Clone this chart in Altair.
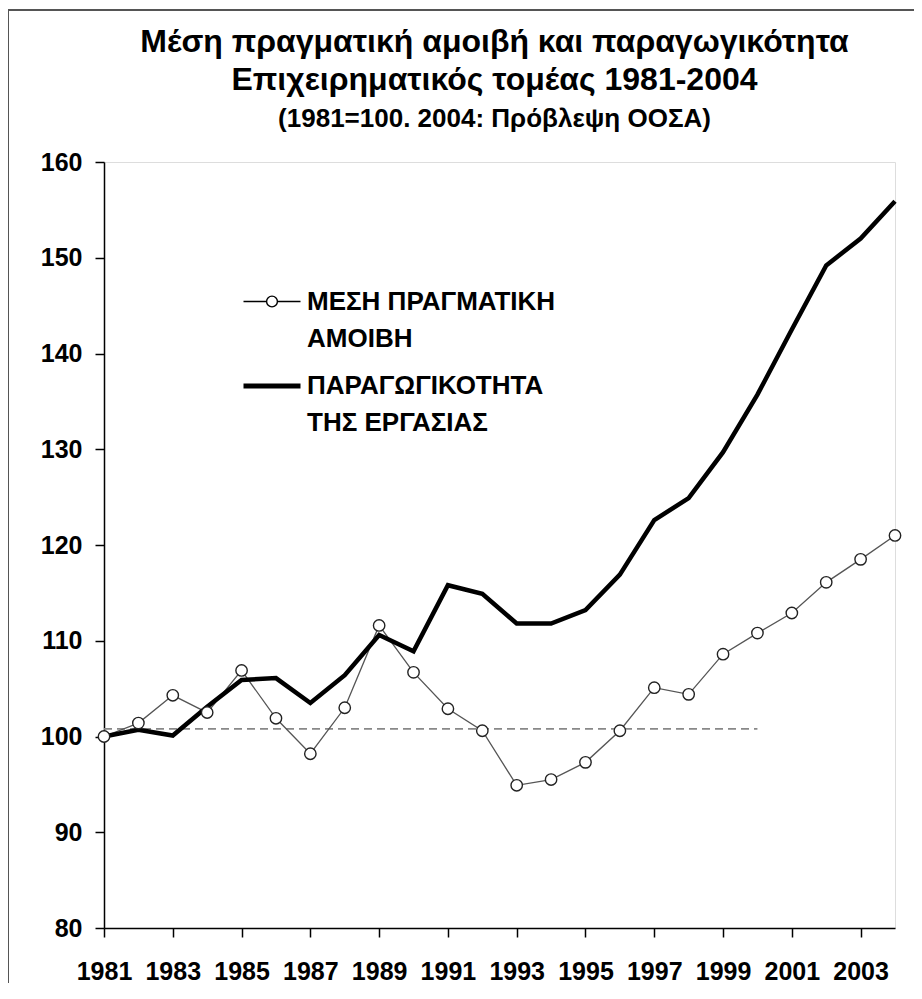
import altair as alt
import pandas as pd

# ---- data ----
YEARS = list(range(1981, 2005))
WAGE = [100.0, 101.4, 104.3, 102.5, 106.9, 101.9, 98.2, 103.0, 111.6, 106.7,
        102.9, 100.6, 94.9, 95.5, 97.3, 100.6, 105.1, 104.4, 108.6, 110.8,
        112.9, 116.1, 118.5, 121.0]
PRODUCTIVITY = [100.0, 100.7, 100.1, 103.1, 105.9, 106.1, 103.5, 106.4, 110.6, 108.9,
                115.8, 114.9, 111.8, 111.8, 113.2, 116.9, 122.6, 124.9, 129.7, 135.7,
                142.5, 149.2, 152.0, 155.9]
SERIES = ["ΜΕΣΗ ΠΡΑΓΜΑΤΙΚΗ|ΑΜΟΙΒΗ", "ΠΑΡΑΓΩΓΙΚΟΤΗΤΑ|ΤΗΣ ΕΡΓΑΣΙΑΣ"]
REF_START = [1981]
REF_END = [2000]
REF_VALUE = [100.8]
Y_TICKS = [80, 90, 100, 110, 120, 130, 140, 150, 160]

TITLE_LINES = ["Μέση πραγματική αμοιβή και παραγωγικότητα",
               "Επιχειρηματικός τομέας 1981-2004"]
SUBTITLE = "(1981=100. 2004: Πρόβλεψη ΟΟΣΑ)"

FONT = "Liberation Sans"

df = pd.concat([
    pd.DataFrame({"year": YEARS, "value": WAGE, "series": SERIES[0]}),
    pd.DataFrame({"year": YEARS, "value": PRODUCTIVITY, "series": SERIES[1]}),
], ignore_index=True)
ref_df = pd.DataFrame({"start": REF_START, "end": REF_END, "value": REF_VALUE})

x_enc = alt.X("year:Q",
              scale=alt.Scale(domain=[YEARS[0], YEARS[-1]], nice=False, zero=False),
              axis=alt.Axis(values=YEARS, format="d", title=None, grid=False,
                            labelExpr="datum.value % 2 == 1 ? datum.label : ''",
                            labelFont=FONT, labelFontSize=25, labelFontWeight="bold",
                            labelColor="black", labelPadding=22, labelOverlap=False,
                            labelFlush=False, tickSize=9, tickColor="black", tickWidth=1.5,
                            domainColor="black", domainWidth=1.5))
y_enc = alt.Y("value:Q",
              scale=alt.Scale(domain=[80, 160], nice=False, zero=False),
              axis=alt.Axis(values=Y_TICKS, title=None, grid=False,
                            labelFont=FONT, labelFontSize=25, labelFontWeight="bold",
                            labelColor="black", labelPadding=13, tickSize=9,
                            tickColor="black", tickWidth=1.5,
                            domainColor="black", domainWidth=1.5))

base = alt.Chart(df)

ref = alt.Chart(ref_df).mark_rule(color="#888888", strokeDash=[8, 5], strokeWidth=1.6).encode(
    x="start:Q", x2="end:Q", y="value:Q")

wage_line = base.transform_filter(alt.datum.series == SERIES[0]).mark_line(
    color="#555555", strokeWidth=1.3).encode(x=x_enc, y=y_enc)
prod_line = base.transform_filter(alt.datum.series == SERIES[1]).mark_line(
    color="black", strokeWidth=4.5).encode(x=x_enc, y=y_enc)
wage_pts = base.transform_filter(alt.datum.series == SERIES[0]).mark_point(
    filled=True, fill="white", stroke="#222222", strokeWidth=1.4, size=130, opacity=1
).encode(x=x_enc, y=y_enc)

# legend symbols: line with a hollow circle, and a plain thick line
SYM_WAGE = ("M-1,0H-0.19M0.19,0H1M0.19,0A0.19,0.19,0,1,1,-0.19,0"
            "A0.19,0.19,0,1,1,0.19,0Z")
SYM_PROD = "M-1,0H1"

leg = alt.Legend(title=None, orient="none", legendX=137, legendY=110,
                 labelExpr="split(datum.label, '|')",
                 labelFont=FONT, labelFontSize=26, labelFontWeight="bold",
                 labelColor="black", labelLimit=600, labelOffset=4,
                 symbolSize=3249, rowPadding=3, padding=0)

carrier = base.transform_filter("false").mark_point(
    filled=True, fill="white", stroke="black", opacity=1
).encode(
    shape=alt.Shape("series:N", scale=alt.Scale(domain=SERIES, range=[SYM_WAGE, SYM_PROD]),
                    legend=leg),
    strokeWidth=alt.StrokeWidth("series:N", scale=alt.Scale(domain=SERIES, range=[1.4, 5]),
                                legend=leg),
)

frame = alt.Chart(pd.DataFrame({"k": [0]})).mark_rect(
    fill="white", fillOpacity=0, stroke="#555555", strokeWidth=2
).encode(x=alt.value(-96), x2=alt.value(900), y=alt.value(-152), y2=alt.value(900))

chart = alt.layer(frame, ref, wage_line, prod_line, wage_pts, carrier).properties(
    width=791, height=766,
    autosize="none",
    padding={"left": 96, "top": 154, "right": 19, "bottom": 55},
    background="white",
    title=alt.TitleParams(text=TITLE_LINES, subtitle=SUBTITLE, anchor="middle",
                          font=FONT, fontSize=32, fontWeight="bold", color="black",
                          lineHeight=38, subtitleFont=FONT, subtitleFontSize=26,
                          subtitleFontWeight="bold", subtitleColor="black",
                          subtitlePadding=9, offset=20, dx=-5, dy=144),
).configure_view(stroke=None).configure(
    style={"guide-label": {"lineHeight": 37}}
)

chart.save("out.html", embed_options={"renderer": "svg", "actions": False})
